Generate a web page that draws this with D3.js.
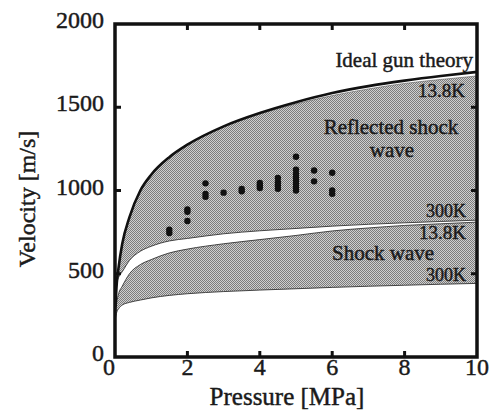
<!DOCTYPE html>
<html>
<head>
<meta charset="utf-8">
<script src="https://cdn.jsdelivr.net/npm/d3@7"></script>
<style>
  body { margin: 0; background: #fff; }
  svg text { font-family: "Liberation Serif", "Times New Roman", serif; fill: #1a1a1a; stroke: #1a1a1a; stroke-width: 0.45px; }
</style>
</head>
<body>
<svg id="chart" width="497" height="418"></svg>
<script>
"use strict";

// pressure grid shared by all theory curves [MPa]
var pressure = [0.01, 0.05, 0.1, 0.2, 0.4, 0.7, 1, 1.5, 2, 3, 4, 5, 6, 7, 8, 9, 10];
// velocity curves [m/s]
var idealGun     = [300, 445, 540, 680, 840, 1000, 1095, 1200, 1275, 1385, 1465, 1530, 1585, 1627, 1660, 1688, 1712];
var reflected138 = [300, 445, 540, 680, 840, 1000, 1095, 1200, 1275, 1383, 1460, 1520, 1570, 1610, 1643, 1667, 1688];
var reflected300 = [300, 440, 478, 512, 580, 635, 665, 697, 712, 740, 758, 772, 786, 797, 806, 814, 822];
var shock138     = [260, 330, 380, 425, 500, 555, 585, 625, 648, 680, 705, 730, 757, 775, 790, 800, 810];
var shock300     = [230, 270, 290, 312, 328, 342, 355, 370, 380, 393, 402, 410, 418, 425, 431, 437, 442];

// measured points
var expP = [1.5, 1.5, 2, 2, 2, 2.5, 2.5, 2.5, 3, 3.5, 3.5, 4, 4, 4, 4.5, 4.5, 4.5, 4.5,
            5, 5, 5, 5, 5, 5, 5, 5, 5.5, 5.5, 6, 6, 6];
var expV = [745, 765, 817, 872, 886, 1043, 962, 980, 987, 995, 1010, 1015, 1030, 1045, 1010, 1030, 1050, 1075,
            1203, 1000, 1020, 1040, 1060, 1080, 1100, 1125, 1055, 1120, 980, 1000, 1107];

var xTicks = [0, 2, 4, 6, 8, 10];
var yTicks = [0, 500, 1000, 1500, 2000];

var svg = d3.select('#chart');
var margin = { left: 115, right: 20, top: 24, bottom: 61 };
var W = 497, H = 418;

var x = d3.scaleLinear().domain([0, 10]).range([margin.left, W - margin.right]);
var y = d3.scaleLinear().domain([0, 2000]).range([H - margin.bottom, margin.top]);

var defs = svg.append('defs');
var pat = defs.append('pattern')
	.attr('id', 'shade')
	.attr('width', 2).attr('height', 2)
	.attr('patternUnits', 'userSpaceOnUse');
pat.append('rect').attr('width', 2).attr('height', 2).attr('fill', '#cfcfcf');
pat.append('rect').attr('x', 0).attr('y', 0).attr('width', 1).attr('height', 1).attr('fill', '#7c7c7c');
pat.append('rect').attr('x', 1).attr('y', 1).attr('width', 1).attr('height', 1).attr('fill', '#7c7c7c');

defs.append('clipPath').attr('id', 'plotclip')
	.append('rect')
	.attr('x', x(0)).attr('y', y(2000))
	.attr('width', x(10) - x(0)).attr('height', y(0) - y(2000));

var plot = svg.append('g').attr('clip-path', 'url(#plotclip)');

function band(top, bottom) {
	return d3.area()
		.x(function(d, i) { return x(pressure[i]); })
		.y0(function(d, i) { return y(bottom[i]); })
		.y1(function(d, i) { return y(top[i]); })
		.curve(d3.curveMonotoneX)(pressure);
}
function curve(vals) {
	return d3.line()
		.x(function(d, i) { return x(pressure[i]); })
		.y(function(d, i) { return y(vals[i]); })
		.curve(d3.curveMonotoneX)(pressure);
}

// shaded regions
plot.append('path').attr('d', band(reflected138, reflected300)).attr('fill', 'url(#shade)');
plot.append('path').attr('d', band(shock138, shock300)).attr('fill', 'url(#shade)');

// thin boundary lines
[reflected300, shock138, shock300].forEach(function(v) {
	plot.append('path').attr('d', curve(v))
		.attr('fill', 'none').attr('stroke', '#333').attr('stroke-width', 0.9);
});
plot.append('path').attr('d', curve(reflected138))
	.attr('fill', 'none').attr('stroke', '#555').attr('stroke-width', 0.6);

// ideal gun theory
plot.append('path').attr('d', curve(idealGun))
	.attr('fill', 'none').attr('stroke', '#111').attr('stroke-width', 2.6);

// data points
plot.selectAll('.pt').data(expP).enter()
	.append('circle')
	.attr('class', 'pt')
	.attr('cx', function(d) { return x(d); })
	.attr('cy', function(d, i) { return y(expV[i]); })
	.attr('r', 3.2)
	.attr('fill', '#111');

// ticks (inward, all four sides)
var tickLen = 6;
var inner = [2, 4, 6, 8];
var innerY = [500, 1000, 1500];
var tk = svg.append('g').attr('stroke', '#111').attr('stroke-width', 3);
inner.forEach(function(t) {
	tk.append('line').attr('x1', x(t)).attr('x2', x(t)).attr('y1', y(0)).attr('y2', y(0) - tickLen);
	tk.append('line').attr('x1', x(t)).attr('x2', x(t)).attr('y1', y(2000)).attr('y2', y(2000) + tickLen);
});
innerY.forEach(function(t) {
	tk.append('line').attr('x1', x(0)).attr('x2', x(0) + tickLen).attr('y1', y(t)).attr('y2', y(t));
	tk.append('line').attr('x1', x(10)).attr('x2', x(10) - tickLen).attr('y1', y(t)).attr('y2', y(t));
});

// frame
svg.append('rect')
	.attr('x', x(0)).attr('y', y(2000))
	.attr('width', x(10) - x(0)).attr('height', y(0) - y(2000))
	.attr('fill', 'none').attr('stroke', '#111').attr('stroke-width', 3.5);

// tick labels
svg.selectAll('.xt').data(xTicks).enter()
	.append('text')
	.attr('x', function(d) { return x(d) + (d === 0 ? -6 : 0); })
	.attr('y', 375)
	.attr('text-anchor', 'middle')
	.style('font-size', '24px')
	.text(function(d) { return d; });

svg.selectAll('.yt').data(yTicks).enter()
	.append('text')
	.attr('x', 104)
	.attr('y', function(d) { return y(d) + 4; })
	.attr('text-anchor', 'end')
	.style('font-size', '24px')
	.text(function(d) { return d; });

// axis titles
svg.append('text')
	.attr('x', (x(0) + x(10)) / 2 - 9)
	.attr('y', 405)
	.attr('text-anchor', 'middle')
	.style('font-size', '25px')
	.text('Pressure [MPa]');

svg.append('text')
	.attr('transform', 'translate(35,199) rotate(-90)')
	.attr('text-anchor', 'middle')
	.style('font-size', '24px')
	.text('Velocity [m/s]');

// in-plot annotations
var notes = [
	{ t: 'Ideal gun theory', x: 473, y: 67, s: 21, a: 'end' },
	{ t: '13.8K', x: 465, y: 97, s: 19, a: 'end' },
	{ t: 'Reflected shock', x: 391, y: 134, s: 21, a: 'middle' },
	{ t: 'wave', x: 392, y: 157, s: 21, a: 'middle' },
	{ t: '300K', x: 466, y: 217, s: 18, a: 'end' },
	{ t: '13.8K', x: 466, y: 239, s: 19, a: 'end' },
	{ t: 'Shock wave', x: 383, y: 260, s: 21, a: 'middle' },
	{ t: '300K', x: 466, y: 281, s: 18, a: 'end' }
];
svg.selectAll('.note').data(notes).enter()
	.append('text')
	.attr('x', function(d) { return d.x; })
	.attr('y', function(d) { return d.y; })
	.attr('text-anchor', function(d) { return d.a; })
	.style('font-size', function(d) { return d.s + 'px'; })
	.text(function(d) { return d.t; });
</script>
</body>
</html>
